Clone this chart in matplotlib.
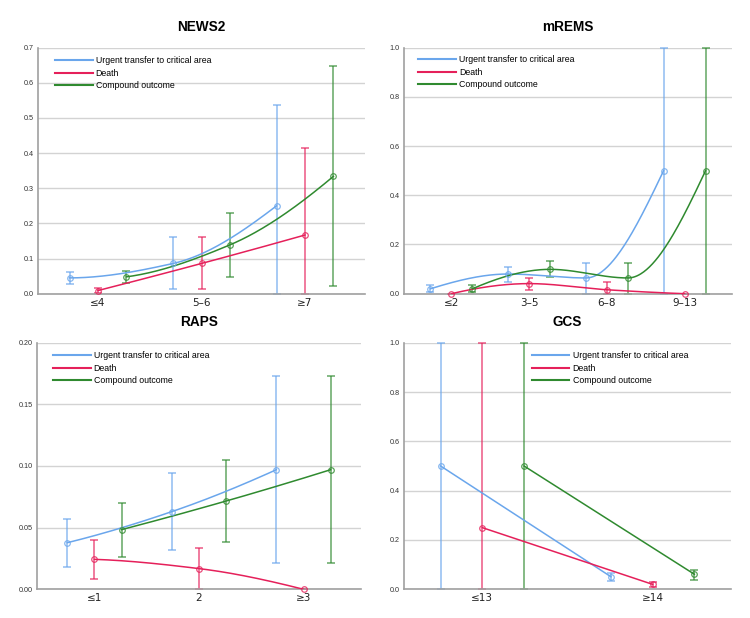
import numpy as np
import matplotlib
matplotlib.use("Agg")
import matplotlib.pyplot as plt
from matplotlib.lines import Line2D

plt.rcParams['font.family'] = ['Liberation Sans', 'DejaVu Sans']

# ---------------- data ----------------
series_names = ["Urgent transfer to critical area", "Death", "Compound outcome"]

news2_cats = ["\u22644", "5\u20136", "\u22657"]
news2_urgent = [0.045, 0.086, 0.25]
news2_urgent_lo = [0.028, 0.012, 0.0]
news2_urgent_hi = [0.061, 0.160, 0.538]
news2_death = [0.009, 0.086, 0.167]
news2_death_lo = [0.001, 0.012, 0.0]
news2_death_hi = [0.017, 0.160, 0.415]
news2_comp = [0.048, 0.139, 0.334]
news2_comp_lo = [0.031, 0.047, 0.021]
news2_comp_hi = [0.065, 0.231, 0.647]

mrems_cats = ["\u22642", "3\u20135", "6\u20138", "9\u201313"]
mrems_urgent = [0.020, 0.080, 0.064, 0.5]
mrems_urgent_lo = [0.005, 0.046, 0.0, 0.0]
mrems_urgent_hi = [0.035, 0.110, 0.126, 1.0]
mrems_death = [0.0, 0.041, 0.016, 0.0]
mrems_death_lo = [0.0, 0.016, 0.0, 0.0]
mrems_death_hi = [0.0, 0.064, 0.047, 0.0]
mrems_comp = [0.020, 0.099, 0.064, 0.5]
mrems_comp_lo = [0.005, 0.066, 0.0, 0.0]
mrems_comp_hi = [0.035, 0.131, 0.126, 1.0]

raps_cats = ["\u22641", "2", "\u22653"]
raps_urgent = [0.0378, 0.063, 0.097]
raps_urgent_lo = [0.018, 0.032, 0.021]
raps_urgent_hi = [0.057, 0.094, 0.1727]
raps_death = [0.0243, 0.0168, 0.0]
raps_death_lo = [0.0084, 0.0, 0.0]
raps_death_hi = [0.0397, 0.0332, 0.0]
raps_comp = [0.0484, 0.0716, 0.097]
raps_comp_lo = [0.0265, 0.0386, 0.021]
raps_comp_hi = [0.0703, 0.1046, 0.1727]

gcs_cats = ["\u226413", "\u226514"]
gcs_urgent = [0.5, 0.051]
gcs_urgent_lo = [0.0, 0.032]
gcs_urgent_hi = [1.0, 0.068]
gcs_death = [0.25, 0.020]
gcs_death_lo = [0.0, 0.009]
gcs_death_hi = [1.0, 0.028]
gcs_comp = [0.5, 0.061]
gcs_comp_lo = [0.0, 0.039]
gcs_comp_hi = [1.0, 0.077]

colors = ["#6aa6ec", "#e5205a", "#2f8a2f"]


def pchip_curve(x, y, n=80):
    x = np.asarray(x, float)
    y = np.asarray(y, float)
    if len(x) < 3:
        return x, y
    h = np.diff(x)
    d = np.diff(y) / h
    m = np.zeros_like(y)
    for k in range(1, len(x) - 1):
        if d[k - 1] * d[k] <= 0:
            m[k] = 0.0
        else:
            w1 = 2 * h[k] + h[k - 1]
            w2 = h[k] + 2 * h[k - 1]
            m[k] = (w1 + w2) / (w1 / d[k - 1] + w2 / d[k])

    def endslope(h0, h1, d0, d1):
        s = ((2 * h0 + h1) * d0 - h0 * d1) / (h0 + h1)
        if np.sign(s) != np.sign(d0):
            s = 0.0
        elif np.sign(d0) != np.sign(d1) and abs(s) > abs(3 * d0):
            s = 3 * d0
        return s

    m[0] = endslope(h[0], h[1], d[0], d[1])
    m[-1] = endslope(h[-1], h[-2], d[-1], d[-2])
    xs, ys = [], []
    for k in range(len(x) - 1):
        t = np.linspace(0, 1, n)
        h00 = 2 * t**3 - 3 * t**2 + 1
        h10 = t**3 - 2 * t**2 + t
        h01 = -2 * t**3 + 3 * t**2
        h11 = t**3 - t**2
        yy = h00 * y[k] + h10 * h[k] * m[k] + h01 * y[k + 1] + h11 * h[k] * m[k + 1]
        xs.append(x[k] + t * h[k])
        ys.append(yy)
    return np.concatenate(xs), np.concatenate(ys)


fig = plt.figure(figsize=(7.5, 6.18), dpi=100)

panels = [
    dict(title="NEWS2", cats=news2_cats,
         vals=[(news2_urgent, news2_urgent_lo, news2_urgent_hi),
               (news2_death, news2_death_lo, news2_death_hi),
               (news2_comp, news2_comp_lo, news2_comp_hi)],
         rect=[38, 47.7, 365, 293.7], ylim=(0, 0.7), yticks=np.arange(0, 0.71, 0.1), yfmt="{:.1f}",
         off=0.275, xpad=0.58, leg=(0.052, 0.966)),
    dict(title="mREMS", cats=mrems_cats,
         vals=[(mrems_urgent, mrems_urgent_lo, mrems_urgent_hi),
               (mrems_death, mrems_death_lo, mrems_death_hi),
               (mrems_comp, mrems_comp_lo, mrems_comp_hi)],
         rect=[404, 47.7, 732, 293.7], ylim=(0, 1.0), yticks=np.arange(0, 1.01, 0.2), yfmt="{:.1f}",
         off=0.27, xpad=0.61, leg=(0.043, 0.970)),
    dict(title="RAPS", cats=raps_cats,
         vals=[(raps_urgent, raps_urgent_lo, raps_urgent_hi),
               (raps_death, raps_death_lo, raps_death_hi),
               (raps_comp, raps_comp_lo, raps_comp_hi)],
         rect=[37, 342.7, 361, 589.3], ylim=(0, 0.2), yticks=np.arange(0, 0.201, 0.05), yfmt="{:.2f}",
         off=0.26, xpad=0.55, leg=(0.049, 0.966)),
    dict(title="GCS", cats=gcs_cats,
         vals=[(gcs_urgent, gcs_urgent_lo, gcs_urgent_hi),
               (gcs_death, gcs_death_lo, gcs_death_hi),
               (gcs_comp, gcs_comp_lo, gcs_comp_hi)],
         rect=[404, 342.7, 731, 589.3], ylim=(0, 1.0), yticks=np.arange(0, 1.01, 0.2), yfmt="{:.1f}",
         off=0.245, xpad=0.46, leg=(0.391, 0.966)),
]

W, H = 750.0, 618.0
for p in panels:
    x0, y0, x1, y1 = p["rect"]
    ax = fig.add_axes([x0 / W, 1 - y1 / H, (x1 - x0) / W, (y1 - y0) / H])
    n = len(p["cats"])
    base = np.arange(n)
    for i, (v, lo, hi) in enumerate(p["vals"]):
        xs = base + (i - 1) * p["off"]
        v = np.asarray(v)
        lo = np.asarray(lo)
        hi = np.asarray(hi)
        cx, cy = pchip_curve(xs, v)
        ax.plot(cx, cy, color=colors[i], lw=1.1, zorder=3)
        ax.errorbar(xs, v, yerr=[v - lo, hi - v], fmt="none", ecolor=colors[i],
                    elinewidth=1.1, capsize=3.2, capthick=1.1, alpha=0.75, zorder=2,
                    clip_on=False)
        ax.plot(xs, v, "o", ms=4, mfc="none", mec=colors[i], mew=0.9, alpha=0.8, zorder=4,
                clip_on=False)
    ax.set_xlim(-p["xpad"], n - 1 + p["xpad"])
    ax.set_ylim(*p["ylim"])
    ax.set_yticks(p["yticks"])
    ax.set_yticklabels([p["yfmt"].format(t) for t in p["yticks"]], fontsize=5.2, color="#333333")
    ax.set_xticks(base)
    ax.set_xticklabels(p["cats"], fontsize=7.5, color="#222222",
                       family=['DejaVu Sans'])
    ax.tick_params(axis="both", length=0)
    ax.tick_params(axis="y", pad=3)
    ax.tick_params(axis="x", pad=3)
    ax.yaxis.grid(True, color="#d3d3d3", lw=1.0)
    ax.set_axisbelow(True)
    for s in ["top", "right"]:
        ax.spines[s].set_visible(False)
    for s in ["left", "bottom"]:
        ax.spines[s].set_color("#a0a0a0")
        ax.spines[s].set_linewidth(1.2)
    ax.set_title(p["title"], fontsize=9.8, fontweight="bold", pad=12)
    handles = [Line2D([], [], color=c, lw=1.5) for c in colors]
    ax.legend(handles, series_names, loc="upper left", bbox_to_anchor=p["leg"],
              frameon=False, borderpad=0, borderaxespad=0,
              handlelength=4.3, handletextpad=0.35, labelspacing=0.42,
              prop={'family': ['Liberation Sans'], 'size': 6.3})

fig.savefig("out.png", dpi=100, facecolor="white")
